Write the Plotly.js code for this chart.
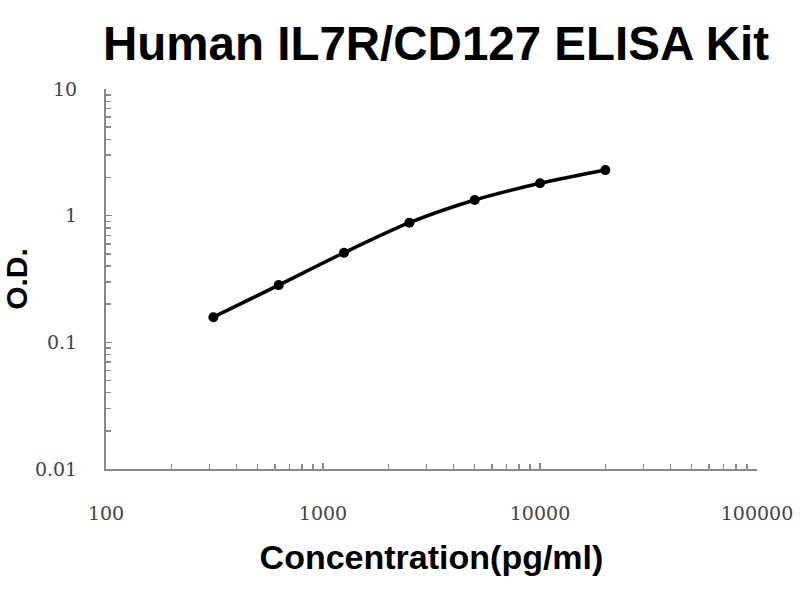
<!DOCTYPE html>
<html>
<head>
<meta charset="utf-8">
<script src="https://cdn.plot.ly/plotly-3.0.1.min.js"></script>
<style>html,body{margin:0;padding:0;background:#fff;}#chart{width:800px;height:600px;}</style>
</head>
<body>
<div id="chart"></div>
<script>
const concentration = [312.5, 625, 1250, 2500, 5000, 10000, 20000];
const od = [0.158, 0.283, 0.51, 0.88, 1.33, 1.80, 2.29];
const xTickVals = [100, 1000, 10000, 100000];
const xTickText = ["100", "1000", "10000", "100000"];
const yTickVals = [0.01, 0.1, 1, 10];
const yTickText = ["0.01", "0.1", "1", "10"];

const trace = {
  x: concentration,
  y: od,
  type: 'scatter',
  mode: 'lines+markers',
  line: {color: '#000', width: 3.5, shape: 'spline', smoothing: 0.8},
  marker: {color: '#000', size: 10},
  hoverinfo: 'skip'
};

const tickFont = {family: 'DejaVu Serif, serif', size: 19, color: '#444'};
const axisCommon = {
  type: 'log',
  showgrid: false,
  zeroline: false,
  showline: true,
  linecolor: '#888',
  linewidth: 2,
  ticks: 'inside',
  ticklen: 6,
  tickwidth: 1.5,
  tickcolor: '#888',
  tickfont: tickFont,
  tickmode: 'array',
  minor: {ticks: 'inside', ticklen: 5, tickwidth: 1.5, tickcolor: '#888', dtick: 'D1', showgrid: false}
};

const layout = {
  width: 800, height: 600,
  paper_bgcolor: '#fff', plot_bgcolor: '#fff',
  margin: {l: 106, r: 43, t: 89, b: 131},
  showlegend: false,
  title: {
    text: 'Human IL7R/CD127 ELISA Kit',
    font: {family: 'Liberation Sans, Arial, sans-serif', size: 47.5, color: '#000', weight: 'bold'},
    x: 0.545, xanchor: 'center', xref: 'container',
    y: 0.927, yanchor: 'middle', yref: 'container'
  },
  xaxis: Object.assign({}, axisCommon, {
    range: [2, 5],
    tickvals: xTickVals, ticktext: xTickText,
    ticklabelstandoff: 26,
    title: {text: 'Concentration(pg/ml)', standoff: 22,
      font: {family: 'Liberation Sans, Arial, sans-serif', size: 34, color: '#000', weight: 'bold'}}
  }),
  yaxis: Object.assign({}, axisCommon, {
    range: [-2, 1],
    tickvals: yTickVals, ticktext: yTickText,
    ticklabelstandoff: 23,
    title: {text: 'O.D.', standoff: 18,
      font: {family: 'Liberation Sans, Arial, sans-serif', size: 30, color: '#000', weight: 'bold'}}
  })
};

Plotly.newPlot('chart', [trace], layout, {displayModeBar: false, staticPlot: true});
</script>
</body>
</html>
